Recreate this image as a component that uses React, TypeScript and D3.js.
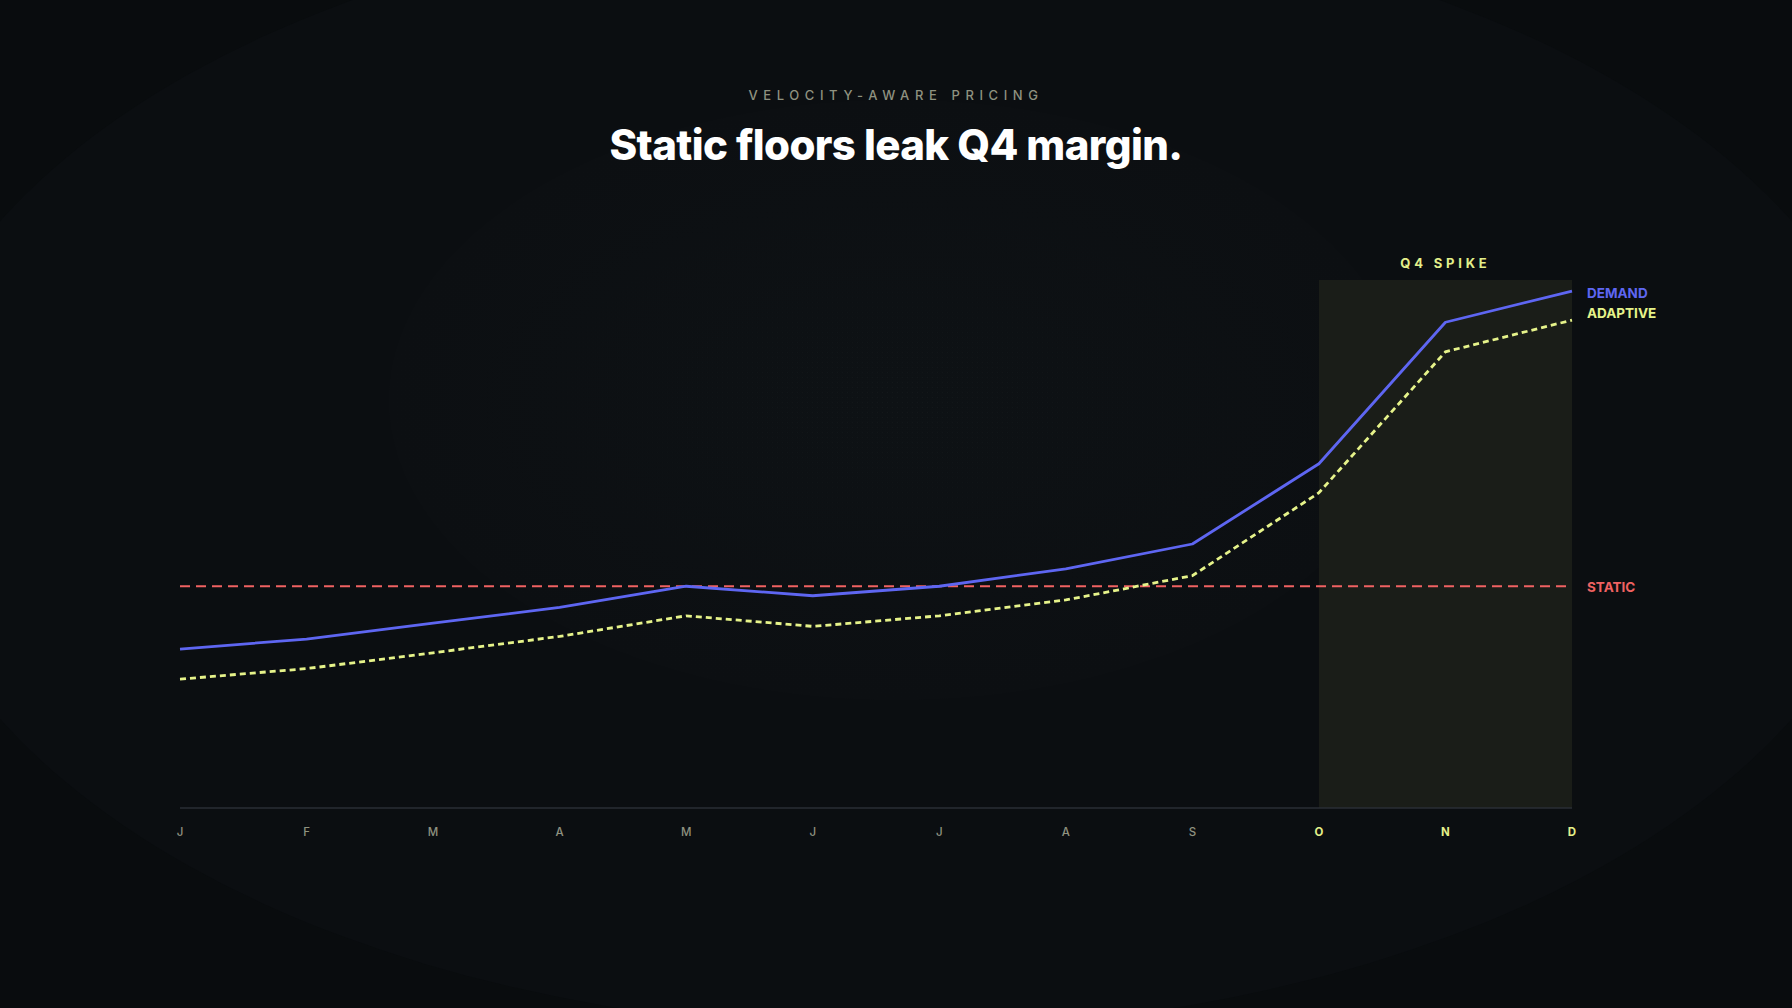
import * as d3 from 'd3'
import React, { useEffect, useRef } from 'react'

const months = ['J', 'F', 'M', 'A', 'M', 'J', 'J', 'A', 'S', 'O', 'N', 'D']
const demand = [30.1, 32, 35, 38, 42, 40.2, 42, 45.3, 50, 65.2, 92, 97.9]
const adaptive = [24.4, 26.4, 29.4, 32.5, 36.4, 34.4, 36.4, 39.4, 44, 59.7, 86.4, 92.4]
const staticFloor = 42
const q4Months = [9, 10, 11]

const W = 1792
const H = 1008

export default function App() {
  const svgRef = useRef<SVGSVGElement>(null)

  useEffect(() => {
    document.body.style.margin = '0'
    document.body.style.background = '#0a0d10'
    if (!svgRef.current) return
    const svg = d3.select(svgRef.current)
    svg.selectAll('*').remove()

    const margin = { top: 280, right: 220, bottom: 200, left: 180 }
    const x = d3
      .scalePoint<number>()
      .domain(d3.range(months.length))
      .range([margin.left, W - margin.right])
    const y = d3.scaleLinear().domain([0, 100]).range([H - margin.bottom, margin.top])

    const defs = svg.append('defs')
    // background glow
    const g1 = defs.append('radialGradient').attr('id', 'bgGlow')
    g1.append('stop').attr('offset', '0%').attr('stop-color', '#0e1215')
    g1.append('stop').attr('offset', '100%').attr('stop-color', '#0c0f12')
    const pat = defs
      .append('pattern')
      .attr('id', 'dots')
      .attr('width', 5)
      .attr('height', 5)
      .attr('patternUnits', 'userSpaceOnUse')
    pat.append('circle').attr('cx', 2.5).attr('cy', 2.5).attr('r', 0.6).attr('fill', '#232828')
    const fade = defs.append('radialGradient').attr('id', 'fade')
    fade.append('stop').attr('offset', '0%').attr('stop-color', '#fff').attr('stop-opacity', 0.35)
    fade.append('stop').attr('offset', '100%').attr('stop-color', '#fff').attr('stop-opacity', 0)
    defs
      .append('mask')
      .attr('id', 'dotMask')
      .append('ellipse')
      .attr('cx', 900)
      .attr('cy', 400)
      .attr('rx', 420)
      .attr('ry', 200)
      .attr('fill', 'url(#fade)')

    svg.append('rect').attr('width', W).attr('height', H).attr('fill', '#090c0e')
    svg
      .append('ellipse')
      .attr('cx', 896)
      .attr('cy', 470)
      .attr('rx', 1000)
      .attr('ry', 560)
      .attr('fill', '#0b0e11')
    svg
      .append('ellipse')
      .attr('cx', 897)
      .attr('cy', 400)
      .attr('rx', 508)
      .attr('ry', 300)
      .attr('fill', 'url(#bgGlow)')
    svg
      .append('ellipse')
      .attr('cx', 900)
      .attr('cy', 400)
      .attr('rx', 420)
      .attr('ry', 200)
      .attr('fill', 'url(#dots)')
      .attr('mask', 'url(#dotMask)')

    // titles
    svg
      .append('text')
      .attr('x', W / 2)
      .attr('y', 100)
      .attr('text-anchor', 'middle')
      .style('font-family', 'Inter, sans-serif')
      .style('font-size', '13px')
      .style('font-weight', 500)
      .style('letter-spacing', '5.6px')
      .style('fill', '#8f9280')
      .text('VELOCITY-AWARE PRICING')

    svg
      .append('text')
      .attr('x', W / 2)
      .attr('y', 160)
      .attr('text-anchor', 'middle')
      .style('font-family', 'Inter, sans-serif')
      .style('font-size', '42px')
      .style('font-weight', 800)
      .style('letter-spacing', '-0.6px')
      .style('fill', '#ffffff')
      .text('Static floors leak Q4 margin.')

    // Q4 band
    const bandX0 = x(q4Months[0]) as number
    const bandX1 = x(q4Months[q4Months.length - 1]) as number
    svg
      .append('rect')
      .attr('x', bandX0)
      .attr('y', y(100))
      .attr('width', bandX1 - bandX0)
      .attr('height', y(0) - y(100))
      .attr('fill', '#1a1d18')
    svg
      .append('text')
      .attr('x', (bandX0 + bandX1) / 2)
      .attr('y', y(100) - 12)
      .attr('text-anchor', 'middle')
      .style('font-family', 'Inter, sans-serif')
      .style('font-size', '13px')
      .style('font-weight', 700)
      .style('letter-spacing', '3.8px')
      .style('fill', '#e3ef8a')
      .text('Q4 SPIKE')

    // baseline axis
    svg
      .append('line')
      .attr('x1', x(0) as number)
      .attr('x2', bandX1)
      .attr('y1', y(0))
      .attr('y2', y(0))
      .attr('stroke', '#2a2e35')
      .attr('stroke-width', 1.5)

    svg
      .append('g')
      .selectAll('text')
      .data(months)
      .join('text')
      .attr('x', (_, i) => x(i) as number)
      .attr('y', y(0) + 28)
      .attr('text-anchor', 'middle')
      .style('font-family', 'Inter, sans-serif')
      .style('font-size', '11.5px')
      .style('font-weight', (_, i) => (q4Months.includes(i) ? 700 : 500))
      .style('fill', (_, i) => (q4Months.includes(i) ? '#e3ef8a' : '#8f9280'))
      .text(d => d)

    // static floor
    svg
      .append('line')
      .attr('x1', x(0) as number)
      .attr('x2', (x(months.length - 1) as number) - 4)
      .attr('y1', y(staticFloor))
      .attr('y2', y(staticFloor))
      .attr('stroke', '#f06262')
      .attr('stroke-width', 2)
      .attr('stroke-dasharray', '10,6')

    const line = d3
      .line<number>()
      .x((_, i) => x(i) as number)
      .y(d => y(d))

    svg
      .append('path')
      .attr('d', line(adaptive))
      .attr('fill', 'none')
      .attr('stroke', '#e6f38a')
      .attr('stroke-width', 2.8)
      .attr('stroke-dasharray', '6,4')

    svg
      .append('path')
      .attr('d', line(demand))
      .attr('fill', 'none')
      .attr('stroke', '#5e66f2')
      .attr('stroke-width', 2.8)
      .attr('stroke-linejoin', 'round')

    // end labels
    const labelX = (x(months.length - 1) as number) + 15
    const labels = [
      { text: 'DEMAND', y: y(demand[demand.length - 1]) + 2, color: '#5e66f2' },
      { text: 'ADAPTIVE', y: y(demand[demand.length - 1]) + 22, color: '#e6f38a' },
      { text: 'STATIC', y: y(staticFloor) + 1, color: '#f06262' },
    ]
    svg
      .append('g')
      .selectAll('text')
      .data(labels)
      .join('text')
      .attr('x', labelX)
      .attr('y', d => d.y)
      .attr('dy', '0.35em')
      .style('font-family', 'Inter, sans-serif')
      .style('font-size', '13.5px')
      .style('font-weight', 700)
      .style('fill', d => d.color)
      .text(d => d.text)
  }, [])

  return <svg ref={svgRef} width={W} height={H} style={{ display: 'block' }} />
}
